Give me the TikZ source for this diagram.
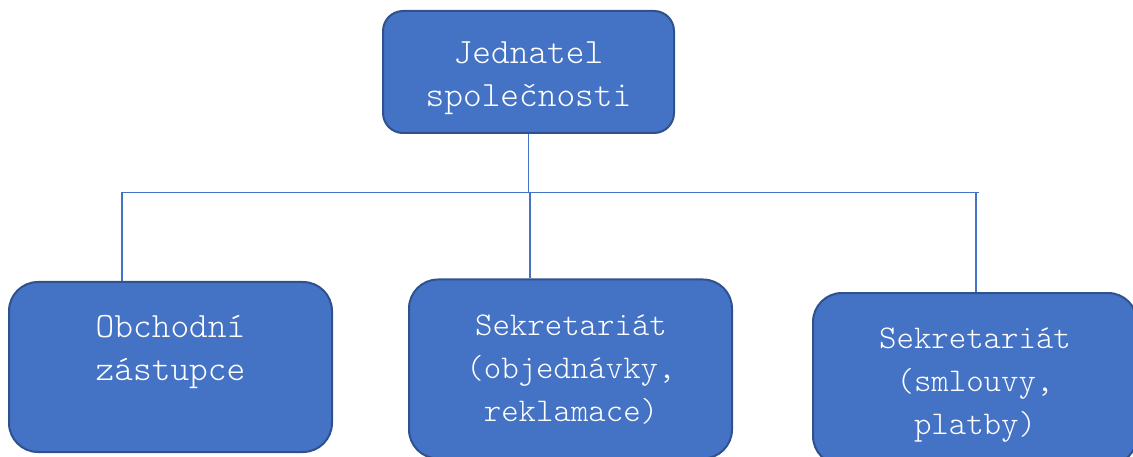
\documentclass[tikz,border=0pt]{standalone}
\usepackage{fontspec}
\newfontfamily\courierlike{Latin Modern Mono Light}
\definecolor{boxfill}{HTML}{4472C4}
\definecolor{boxedge}{HTML}{2F528F}
\definecolor{conn}{HTML}{4472C4}
\newcommand{\lstrut}{\vrule width 0pt height 30pt depth 13pt}
\begin{document}
\begin{tikzpicture}[x=1pt,y=-1pt,
  orgbox/.style={draw=boxedge,line width=2pt,fill=boxfill,rectangle,inner sep=0pt},
  bigtxt/.style={text=white,inner sep=0pt,align=center,font=\courierlike\fontsize{35.6}{43}\selectfont},
  smalltxt/.style={text=white,inner sep=0pt,align=center,font=\courierlike\fontsize{33.2}{43}\selectfont},
  connline/.style={draw=conn,line width=1.1pt}]
\useasboundingbox (0,0) rectangle (1133,457);
\begin{scope}
\clip (0,0) rectangle (1133,457);
% boxes
\node[orgbox,rounded corners=20pt,minimum width=291pt,minimum height=122pt] (top) at (528.5,72) {};
\node[orgbox,rounded corners=29pt,minimum width=323pt,minimum height=170pt] (left) at (170.5,367) {};
\node[orgbox,rounded corners=29pt,minimum width=323pt,minimum height=179pt] (mid) at (570.5,369) {};
\node[orgbox,rounded corners=29pt,minimum width=324pt,minimum height=172pt] (right) at (975,379) {};
% texts
\node[bigtxt] (ttop) at (528.5,76.5) {\lstrut Jednatel\\\lstrut společnosti};
\node[bigtxt] (tleft) at (170.5,350) {\lstrut Obchodní\\\lstrut zástupce};
\node[smalltxt] (tmid) at (571,369.5) {\lstrut Sekretariát\\\lstrut (objednávky,\\\lstrut reklamace)};
\node[smalltxt] (tright) at (975,383) {\lstrut Sekretariát\\\lstrut (smlouvy,\\\lstrut platby)};
% connectors
\coordinate (busL) at (122,192.5);
\coordinate (busR) at (979,192.5);
\draw[connline] (top.south) -- (top.south |- busL);
\draw[connline] (busL) -- (busR);
\draw[connline] (busL) -- (busL |- left.north);
\draw[connline] (530,192.5) -- (530,0 |- mid.north);
\draw[connline] (976,192.5) -- (976,0 |- right.north);
\end{scope}
\end{tikzpicture}
\end{document}
